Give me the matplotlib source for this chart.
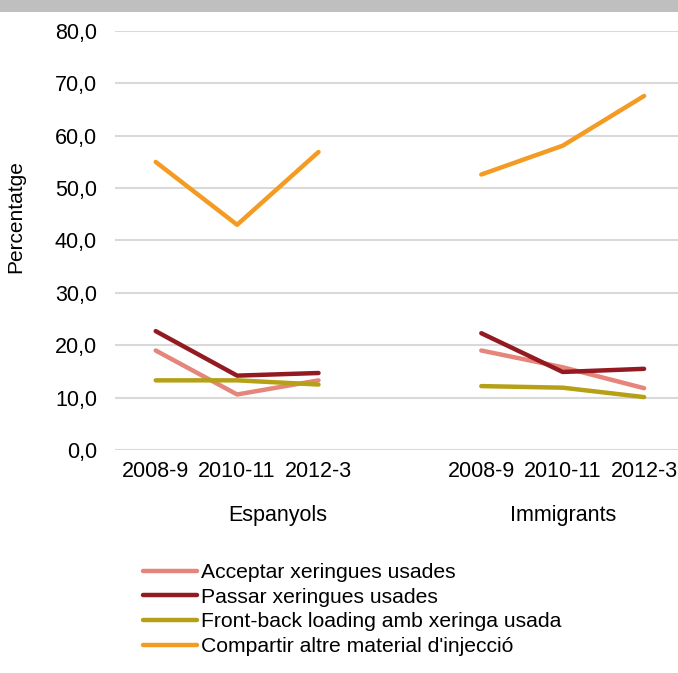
import matplotlib
matplotlib.use("Agg")
import matplotlib.pyplot as plt
from matplotlib.patches import Rectangle

plt.rcParams['font.family'] = ['Liberation Sans', 'DejaVu Sans']

periods = ["2008-9", "2010-11", "2012-3"]
groups = ["Espanyols", "Immigrants"]
series_names = ["Acceptar xeringues usades", "Passar xeringues usades",
                "Front-back loading amb xeringa usada", "Compartir altre material d'injecció"]
colors = ["#e5857b", "#921a20", "#b5a016", "#f39b22"]

esp_acceptar = [19.0, 10.6, 13.3]
esp_passar = [22.7, 14.2, 14.7]
esp_front = [13.3, 13.3, 12.5]
esp_compartir = [55.0, 43.0, 56.9]

imm_acceptar = [19.0, 15.8, 11.8]
imm_passar = [22.3, 14.9, 15.5]
imm_front = [12.2, 11.9, 10.1]
imm_compartir = [52.6, 58.1, 67.6]

yticks = [0, 10, 20, 30, 40, 50, 60, 70, 80]

esp = [esp_acceptar, esp_passar, esp_front, esp_compartir]
imm = [imm_acceptar, imm_passar, imm_front, imm_compartir]

W, H = 678, 673
fig = plt.figure(figsize=(W / 100, H / 100), dpi=100)
# top gray band
fig.patches.append(Rectangle((0, 1 - 12 / H), 1, 12 / H, transform=fig.transFigure,
                             facecolor="#bfbfbf", edgecolor="none"))

left, bottom, top = 115 / W, 1 - 450 / H, 1 - 31 / H
ax = fig.add_axes([left, bottom, 1 - left, top - bottom])

x_esp = [0, 1, 2]
x_imm = [4, 5, 6]
for i in range(4):
    ax.plot(x_esp, esp[i], color=colors[i], lw=3.2, solid_capstyle='round', label=series_names[i])
    ax.plot(x_imm, imm[i], color=colors[i], lw=3.2, solid_capstyle='round')

fs = 15.5
ax.set_ylim(0, 80)
ax.set_xlim(-0.5, -0.5 + (W - 115) / 81.4)
ax.set_yticks(yticks)
ax.set_yticklabels([f"{v:.1f}".replace(".", ",") for v in yticks], fontsize=fs)
ax.set_xticks(x_esp + x_imm)
ax.set_xticklabels(periods + periods, fontsize=fs)
ax.tick_params(axis='y', length=0, pad=13)
ax.tick_params(axis='x', length=0, pad=8)
ax.grid(axis='y', color='#d9d9d9', lw=1.5)
ax.set_axisbelow(True)
for s in ax.spines.values():
    s.set_visible(False)

ax.set_ylabel("Percentatge", fontsize=15)
ax.yaxis.set_label_coords(-(115 - 25) / (W - 115), (450 - 217) / 419)

# group labels
ax.text(1.5, -(515 - 450) / 419, groups[0], transform=ax.get_xaxis_transform(),
        ha='center', va='center', fontsize=fs)
ax.text(5.0, -(515 - 450) / 419, groups[1], transform=ax.get_xaxis_transform(),
        ha='center', va='center', fontsize=fs)

leg = fig.legend(loc='upper left', bbox_to_anchor=(143 / W, 1 - 563 / H), frameon=False,
                 fontsize=15.2, handlelength=2.55, handletextpad=0.2, labelspacing=0.27,
                 borderpad=0, borderaxespad=0)

fig.savefig("out.png", dpi=100)
